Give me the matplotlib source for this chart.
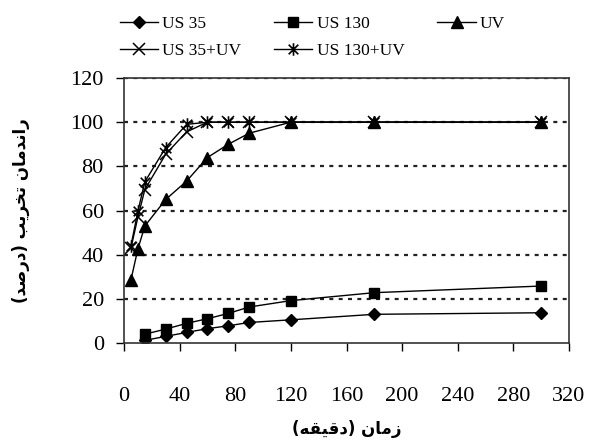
import matplotlib.pyplot as plt
from matplotlib.path import Path

# data
x_us = [15, 30, 45, 60, 75, 90, 120, 180, 300]
us35 = [1.2, 3.0, 4.8, 6.5, 7.8, 9.3, 10.5, 13.0, 13.7]
us130 = [4.0, 6.3, 8.9, 11.0, 13.4, 16.3, 19.2, 22.8, 25.8]

x_uv = [5, 10, 15, 30, 45, 60, 75, 90, 120, 180, 300]
uv = [28.6, 42.6, 53.0, 65.0, 73.3, 84.0, 90.0, 95.0, 100, 100, 100]
us35_uv = [43.0, 57.0, 69.5, 85.5, 95.6, 100, 100, 100, 100, 100, 100]
us130_uv = [44.0, 59.7, 73.0, 88.5, 99.0, 100, 100, 100, 100, 100, 100]

x_ticks = [0, 40, 80, 120, 160, 200, 240, 280, 320]
y_ticks = [0, 20, 40, 60, 80, 100, 120]


def rtl(shaped):
    # shaped text (presentation forms) -> visual order for left-to-right drawing
    s = shaped[::-1]
    return s.replace('(', '\0').replace(')', '(').replace('\0', ')')


# زمان (دقیقه)
xlabel = rtl('\uFEAF\uFEE3\uFE8E\uFEE5 (\uFEA9\uFED7\uFEF4\uFED8\uFEEA)')
# راندمان تخریب (درصد)
ylabel = rtl('\uFEAD\uFE8D\uFEE7\uFEAA\uFEE3\uFE8E\uFEE5 '
             '\uFE97\uFEA8\uFEAE\uFEF3\uFE90 '
             '(\uFEA9\uFEAD\uFEBB\uFEAA)')

# asterisk marker like excel (x plus vertical bar)
star = Path([(-1, -1), (1, 1), (-1, 1), (1, -1), (0, -1.3), (0, 1.3)],
            [Path.MOVETO, Path.LINETO, Path.MOVETO, Path.LINETO, Path.MOVETO, Path.LINETO])

fig = plt.figure(figsize=(5.91, 4.43), dpi=100)
ax = fig.add_axes([0.2098, 0.2257, 0.7530, 0.5982])

kw = dict(color='black', lw=1.0)
l1, = ax.plot(x_us, us35, marker='D', ms=6, label='US 35', **kw)
l2, = ax.plot(x_us, us130, marker='s', ms=6.5, label='US 130', **kw)
l3, = ax.plot(x_uv, uv, marker='^', ms=8, label='UV', **kw)
l4, = ax.plot(x_uv, us35_uv, marker='x', ms=8, mew=1.1, label='US 35+UV', **kw)
l5, = ax.plot(x_uv, us130_uv, marker=star, ms=9, mew=1.2, mfc='none', label='US 130+UV', **kw)

ax.set_xlim(0, 320)
ax.set_ylim(0, 120)
ax.set_xticks(x_ticks)
ax.set_yticks(y_ticks)

for y in y_ticks[1:]:
    ax.axhline(y, color='#222222', lw=1.6, ls=(0, (1.8, 2.4)), zorder=0.5)

for s in ax.spines.values():
    s.set_color('#333333')
    s.set_linewidth(1.2)

ax.tick_params(direction='out', length=5.5, width=1.0, top=False, right=False)
ax.tick_params(axis='x', pad=26)
ax.tick_params(axis='y', pad=9)
for t in ax.get_xticklabels() + ax.get_yticklabels():
    t.set_fontfamily('Liberation Serif')
    t.set_fontsize(16)

ax.set_xlabel(xlabel, fontsize=12, fontweight='bold', family=['DejaVu Sans'], labelpad=10)
ax.set_ylabel(ylabel, fontsize=12, fontweight='bold', family=['DejaVu Sans'], labelpad=29)

fig.legend([l1, l4, l2, l5, l3], ['US 35', 'US 35+UV', 'US 130', 'US 130+UV', 'UV'],
           ncol=3, loc='upper left', bbox_to_anchor=(0.176, 1.0), frameon=False,
           prop={'family': 'Liberation Serif', 'size': 12.5},
           handlelength=2.2, handletextpad=0.25, columnspacing=1.9, labelspacing=0.65)

fig.savefig('out.png', dpi=100)
